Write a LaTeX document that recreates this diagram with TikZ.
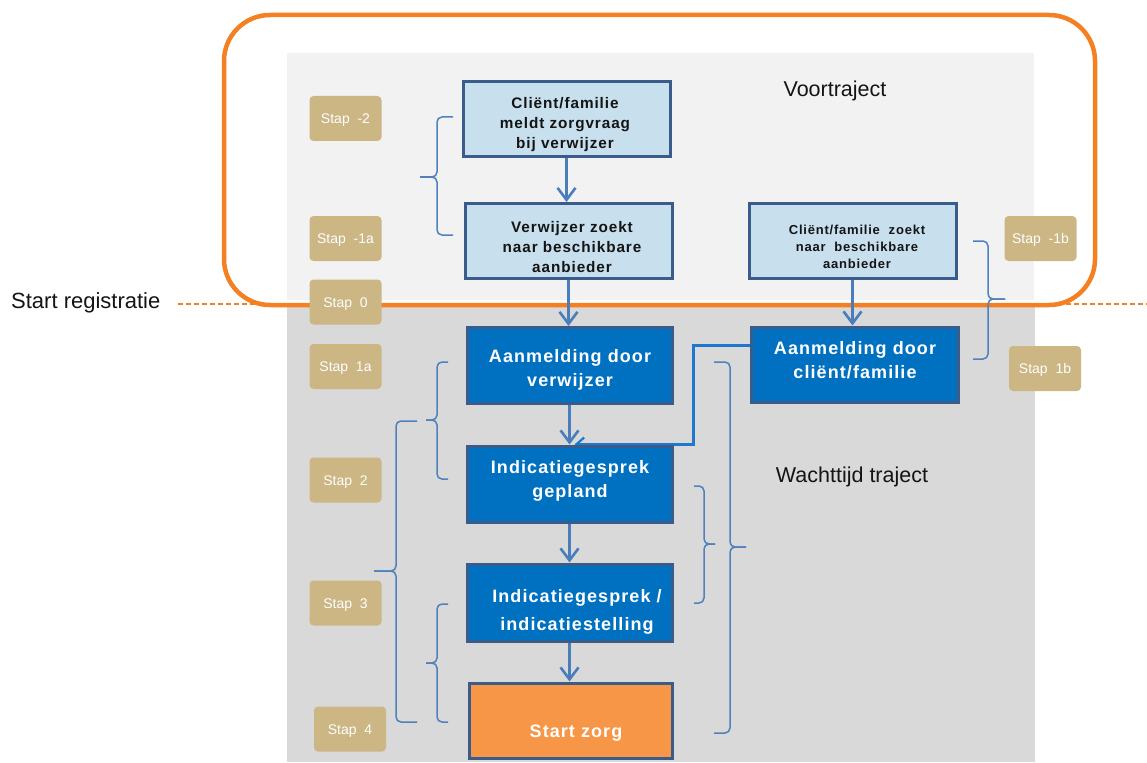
\documentclass[tikz,border=0pt]{standalone}
\usepackage{fontspec}
\setmainfont{Liberation Sans}
\newfontfamily\boxfont[LetterSpace=6]{Liberation Sans}
\usetikzlibrary{arrows.meta,calc}
\definecolor{orangeline}{RGB}{243,128,34}
\definecolor{lightpanel}{RGB}{242,242,242}
\definecolor{darkpanel}{RGB}{217,217,217}
\definecolor{lightboxfill}{RGB}{200,224,238}
\definecolor{boxborder}{RGB}{58,92,138}
\definecolor{darkboxfill}{RGB}{0,112,192}
\definecolor{startfill}{RGB}{247,150,70}
\definecolor{stapfill}{RGB}{203,182,132}
\definecolor{arrowc}{RGB}{74,126,187}
\definecolor{bracec}{RGB}{79,129,189}
\definecolor{connc}{RGB}{30,120,205}
\definecolor{textdark}{RGB}{20,20,20}
\pgfdeclarelayer{back}
\pgfsetlayers{back,main}
\newcommand{\bracepath}[6]{%
  \draw[brace] (#1,#4) -- (#2,#4) -- (#2,#5) -- (#3,#5);
  \draw[brace] (#3,#5) -- (#2,#5) -- (#2,#6) -- (#1,#6);}
\begin{document}
\begin{tikzpicture}[x=1pt,y=-1pt,
  lightbox/.style={draw=boxborder, line width=3pt, fill=lightboxfill, minimum width=207pt, minimum height=75pt, inner sep=0pt},
  darkbox/.style={draw=boxborder, line width=3pt, fill=darkboxfill, minimum width=205pt, minimum height=76pt, inner sep=0pt},
  startbox/.style={darkbox, fill=startfill},
  staplabel/.style={fill=stapfill, rounded corners=4pt, minimum width=72pt, minimum height=45pt, text=white, font=\fontsize{14}{16}\selectfont, inner sep=0pt, text height=10pt, text depth=0pt},
  smalltxt/.style={font=\boxfont\bfseries\fontsize{15.3}{20}\selectfont, align=center, text=textdark, inner sep=0pt},
  bigtxt/.style={font=\boxfont\bfseries\fontsize{18}{23.5}\selectfont, align=center, text=white, inner sep=0pt},
  titletxt/.style={font=\fontsize{21.5}{26}\selectfont, text=textdark, inner sep=0pt},
  brace/.style={draw=bracec, line width=1.5pt, rounded corners=5pt},
  arr/.style={draw=arrowc, line width=2.6pt, -{Straight Barb[length=12pt,width=18pt]}},
  conn/.style={draw=connc, line width=2.2pt, -{Straight Barb[length=8pt,width=14pt]}},
  dashline/.style={draw=orangeline, line width=1.5pt, dash pattern=on 5pt off 3pt}
]
\useasboundingbox (0,0) rectangle (1147,762);

% texts
\node[titletxt, font=\fontsize{22}{26}\selectfont, anchor=west] (sr) at (11,303) {Start registratie};
\node[titletxt] (vt) at (835,91) {Voortraject};
\node[titletxt] (wt) at (852,477) {Wachttijd traject};

% boxes
\node[lightbox] (b1) at (566.5,119) {};
\node[lightbox] (b2) at (568.5,241) {};
\node[lightbox] (b3) at (852.5,240.5) {};
\node[darkbox] (b4) at (569.5,365.5) {};
\node[darkbox, minimum width=207pt, minimum height=75pt] (b5) at (854.5,364.5) {};
\node[darkbox] (b6) at (569.5,484) {};
\node[darkbox, minimum height=77pt] (b7) at (569.5,602.5) {};
\node[startbox, minimum width=203pt, minimum height=75pt] (b8) at (570.5,720.5) {};

\node[smalltxt] (t1) at (565,125) {Cliënt/familie\\meldt zorgvraag\\bij verwijzer};
\node[smalltxt] (t2) at (572,247) {Verwijzer zoekt\\naar beschikbare\\aanbieder};
\node[smalltxt, font=\boxfont\bfseries\fontsize{13}{17}\selectfont] (t3) at (857,247) {Cliënt/familie\ \ zoekt\\naar\ \ beschikbare\\aanbieder};
\node[bigtxt] (t4) at (570,370) {Aanmelding door\\verwijzer};
\node[bigtxt] (t5) at (855,360) {Aanmelding door\\cliënt/familie};
\node[bigtxt] (t6) at (570,481) {Indicatiegesprek\\gepland};
\node[bigtxt, font=\boxfont\bfseries\fontsize{18}{28}\selectfont] (t7) at (577,612) {Indicatiegesprek /\\indicatiestelling};
\node[bigtxt] (t8) at (576,733) {Start zorg};

% stap labels
\node[staplabel] (sm2) at (345.5,118.5) {Stap\ \ -2};
\node[staplabel] (sm1a) at (345.5,238.5) {Stap\ \ -1a};
\node[staplabel] (s0) at (345.5,302) {Stap\ \ 0};
\node[staplabel] (s1a) at (345.5,366.5) {Stap\ \ 1a};
\node[staplabel] (s2) at (345.5,480) {Stap\ \ 2};
\node[staplabel] (s3) at (345.5,603) {Stap\ \ 3};
\node[staplabel] (s4) at (350,729) {Stap\ \ 4};
\node[staplabel] (sm1b) at (1040.5,238.5) {Stap\ \ -1b};
\node[staplabel] (s1b) at (1045,368.5) {Stap\ \ 1b};

\coordinate (ds) at (178,304);
\coordinate (de) at (1147,304);

\begin{pgfonlayer}{back}
  \fill[lightpanel] (287,53) rectangle (1034,300);
  \fill[darkpanel] (287,304) rectangle (1035,762);
  \draw[dashline] (ds) -- (de);
  \draw[draw=orangeline, line width=4.5pt, rounded corners=46pt] (224,15) rectangle (1095,305);
  % braces
  \bracepath{453}{437}{420}{117}{177}{235}
  \bracepath{448}{437}{426}{362}{420}{479}
  \bracepath{417}{396}{374}{421}{571}{722}
  \bracepath{448}{437}{426}{604}{663}{722}
  \bracepath{694}{704}{715}{486}{544}{603}
  \bracepath{714}{730}{746}{362}{547}{733}
  \bracepath{973}{988}{1005}{241}{299}{359}
  % arrows
  \draw[arr] (b1.south) -- (b1.south |- b2.north);
  \draw[arr] (b2.south) -- (b2.south |- b4.north);
  \draw[arr] (b3.south) -- (b3.south |- b5.north);
  \draw[arr] (b4.south) -- (b6.north);
  \draw[arr] (b6.south) -- (b7.north);
  \draw[arr] (b7.south) -- (b7.south |- b8.north);
  \draw[conn] ($(b5.north west)+(0,20)$) -| ($(b6.north)+(124,0)$) -- ($(b6.north)+(5,0)$);
\end{pgfonlayer}
\end{tikzpicture}
\end{document}
